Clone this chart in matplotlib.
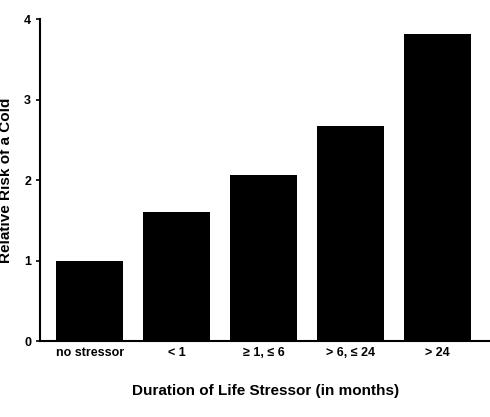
import matplotlib
matplotlib.use("Agg")
import matplotlib.pyplot as plt

categories = ["no stressor", "< 1", "≥ 1, ≤ 6", "> 6, ≤ 24", "> 24"]
values = [1.0, 1.6, 2.07, 2.67, 3.82]

plt.rcParams['font.family'] = ['Liberation Sans', 'DejaVu Sans']
fig = plt.figure(figsize=(4.9, 4.17), dpi=100)
ax = fig.add_axes([0.082, 0.182, 0.918, 0.772])
ax.bar(range(len(values)), values, width=0.77, color='black')
ax.set_xlim(-0.57, 4.6)
ax.set_ylim(0, 4)
ax.set_yticks([0, 1, 2, 3, 4])
ax.set_xticks(range(len(values)))
ax.set_xticklabels(categories, fontsize=9, fontweight='bold')
ax.tick_params(axis='x', length=0, pad=4)
ax.tick_params(axis='y', length=3, width=1.2, labelsize=9)
for lab in ax.get_yticklabels():
    lab.set_fontweight('bold')
ax.spines['top'].set_visible(False)
ax.spines['right'].set_visible(False)
ax.spines['left'].set_linewidth(1.5)
ax.spines['bottom'].set_linewidth(1.5)
ax.set_ylabel("Relative Risk of a Cold", fontsize=11, fontweight='bold', labelpad=8)
ax.set_xlabel("Duration of Life Stressor (in months)", fontsize=11, fontweight='bold', labelpad=18)
fig.savefig("out.png", dpi=100)
